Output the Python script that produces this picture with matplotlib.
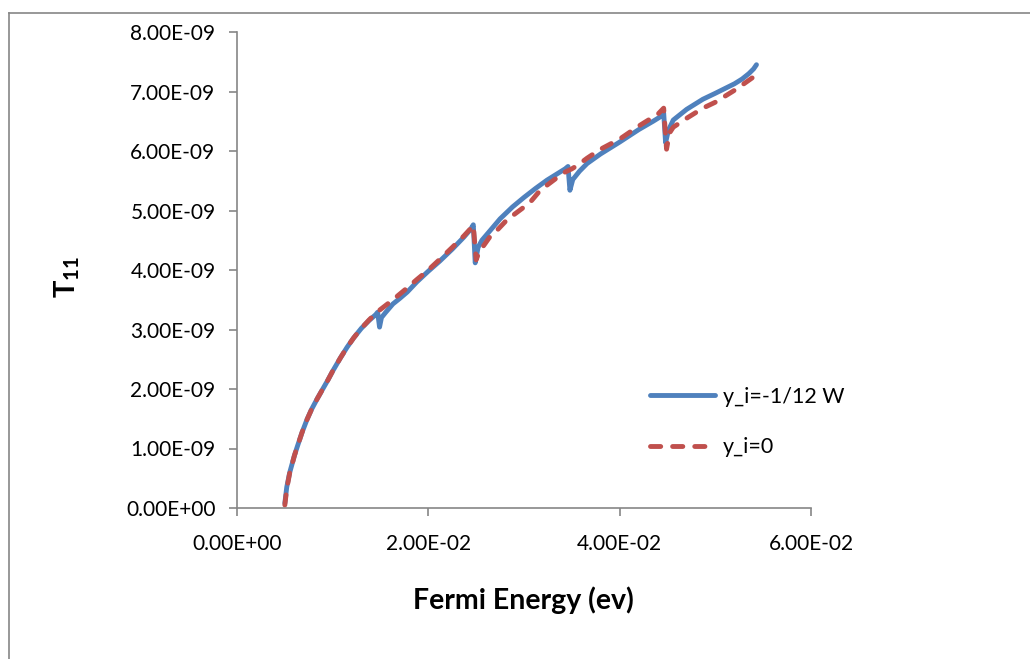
import matplotlib
matplotlib.use("Agg")
import matplotlib.pyplot as plt
from matplotlib.lines import Line2D
from matplotlib.ticker import FuncFormatter

# Fermi energy (ev) and T11 (in units of 1e-9)
blue_x = [0.0050, 0.0052, 0.0055, 0.0060, 0.0063, 0.0068, 0.0073, 0.0078,
          0.0084, 0.0090, 0.0095, 0.0100, 0.0108, 0.0115, 0.0122, 0.0130,
          0.0138, 0.0145, 0.0147, 0.0149, 0.0151, 0.0155, 0.0163, 0.0170,
          0.0178, 0.0188, 0.0200, 0.0212, 0.0225, 0.0237, 0.0244, 0.0247,
          0.0249, 0.0252, 0.0256, 0.0265, 0.0275, 0.0288, 0.0300, 0.0312,
          0.0324, 0.0335, 0.0343, 0.0346, 0.0348, 0.0351, 0.0358, 0.0366,
          0.0380, 0.0400, 0.0420, 0.0435, 0.0442, 0.0446, 0.0448, 0.0451,
          0.0456, 0.0470, 0.0487, 0.0500, 0.0510, 0.0520, 0.0528, 0.0535,
          0.0540, 0.0543]
blue_y = [0.08, 0.35, 0.59, 0.88, 1.03, 1.27, 1.48, 1.66,
          1.84, 2.01, 2.15, 2.30, 2.52, 2.70, 2.86, 3.02,
          3.15, 3.25, 3.29, 3.04, 3.20, 3.28, 3.43, 3.52,
          3.63, 3.80, 3.98, 4.15, 4.35, 4.55, 4.68, 4.76,
          4.12, 4.38, 4.50, 4.67, 4.86, 5.06, 5.22, 5.37,
          5.51, 5.62, 5.70, 5.74, 5.34, 5.52, 5.66, 5.79,
          5.95, 6.15, 6.36, 6.50, 6.57, 6.64, 6.14, 6.35,
          6.52, 6.70, 6.87, 6.97, 7.05, 7.13, 7.21, 7.30,
          7.38, 7.45]

red_x = [0.0050, 0.0052, 0.0055, 0.0060, 0.0063, 0.0068, 0.0073, 0.0078,
         0.0084, 0.0090, 0.0095, 0.0100, 0.0108, 0.0115, 0.0122, 0.0130,
         0.0138, 0.0145, 0.0147, 0.0155, 0.0163, 0.0178, 0.0188, 0.0200,
         0.0212, 0.0225, 0.0237, 0.0245, 0.0247, 0.0250, 0.0253, 0.0264,
         0.0272, 0.0282, 0.0306, 0.0317, 0.0341, 0.0350, 0.0356, 0.0366,
         0.0380, 0.0400, 0.0420, 0.0440, 0.0446, 0.0449, 0.0452, 0.0456,
         0.0470, 0.0487, 0.0500, 0.0522, 0.0543]
red_y = [0.05, 0.32, 0.58, 0.88, 1.03, 1.27, 1.48, 1.66,
         1.84, 2.01, 2.15, 2.30, 2.52, 2.70, 2.86, 3.02,
         3.16, 3.27, 3.30, 3.40, 3.50, 3.70, 3.84, 4.00,
         4.18, 4.38, 4.57, 4.71, 4.75, 4.17, 4.30, 4.55,
         4.67, 4.84, 5.13, 5.34, 5.63, 5.70, 5.76, 5.88,
         6.03, 6.20, 6.42, 6.62, 6.72, 6.03, 6.30, 6.40,
         6.55, 6.72, 6.82, 7.04, 7.28]

labels = ["y_i=-1/12 W", "y_i=0"]
x_ticks = [0.0, 0.02, 0.04, 0.06]
y_ticks = [0, 1e-9, 2e-9, 3e-9, 4e-9, 5e-9, 6e-9, 7e-9, 8e-9]

blue = "#4F81BD"
red = "#C0504D"
gray = "#868686"

plt.rcParams["font.family"] = ["Lato", "DejaVu Sans"]
plt.rcParams["mathtext.fontset"] = "custom"
plt.rcParams["mathtext.bf"] = "Lato:bold"
plt.rcParams["mathtext.rm"] = "Lato"

fig = plt.figure(figsize=(10.30, 6.59), dpi=100)
ax = fig.add_axes([237 / 1030, 1 - 508 / 659, 574 / 1030, 476 / 659])

ax.plot(blue_x, [v * 1e-9 for v in blue_y], color=blue, lw=3.5,
        solid_capstyle="round", solid_joinstyle="round", label=labels[0])
ax.plot(red_x, [v * 1e-9 for v in red_y], color=red, lw=3.5,
        dashes=(2.1, 2.45), dash_capstyle="round", label=labels[1])

ax.set_xlim(0, 0.06)
ax.set_ylim(0, 8e-9)
ax.set_xticks(x_ticks)
ax.set_yticks(y_ticks)
ax.xaxis.set_major_formatter(FuncFormatter(lambda v, p: f"{v:.2E}"))
ax.yaxis.set_major_formatter(FuncFormatter(lambda v, p: f"{v:.2E}"))
ax.xaxis.offsetText.set_visible(False)
ax.yaxis.offsetText.set_visible(False)

for s in ["top", "right"]:
    ax.spines[s].set_visible(False)
for s in ["left", "bottom"]:
    ax.spines[s].set_color(gray)
    ax.spines[s].set_linewidth(1.2)
ax.tick_params(axis="both", direction="out", length=5.5, width=1.2,
               color=gray, labelsize=15, labelcolor="black")
ax.tick_params(axis="x", pad=13)
ax.tick_params(axis="y", pad=10)

ax.set_xlabel("Fermi Energy (ev)", fontsize=20.5, fontweight="bold", va="center")
ax.xaxis.set_label_coords((523 - 237) / 574, (508 - 600) / 476)
ax.set_ylabel(r"$\mathbf{T_{11}}$", fontsize=21, va="center")
ax.yaxis.set_label_coords((67 - 237) / 574, (508 - 277) / 476)

leg = ax.legend(loc="center left", bbox_to_anchor=(650 / 1030, 1 - 422 / 659),
                bbox_transform=fig.transFigure, frameon=False, fontsize=15.5,
                handlelength=3.0, handletextpad=0.4, labelspacing=1.4,
                borderpad=0, borderaxespad=0)

# chart area border (left and top edges visible in the reference)
fig.add_artist(Line2D([9 / 1030, 9 / 1030], [0, 1 - 13 / 659],
                      transform=fig.transFigure, color=gray, lw=1.2))
fig.add_artist(Line2D([9 / 1030, 1], [1 - 13 / 659, 1 - 13 / 659],
                      transform=fig.transFigure, color=gray, lw=1.2))

fig.savefig("out.png", dpi=100)
